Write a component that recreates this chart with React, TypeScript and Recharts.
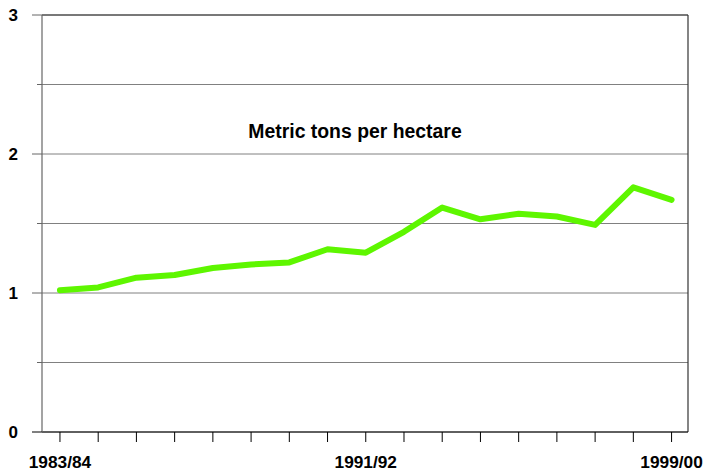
import React from "react";
import {
  LineChart,
  Line,
  XAxis,
  YAxis,
  CartesianGrid,
  ReferenceLine,
} from "recharts";

const years = [
  "1983/84", "1984/85", "1985/86", "1986/87", "1987/88", "1988/89",
  "1989/90", "1990/91", "1991/92", "1992/93", "1993/94", "1994/95",
  "1995/96", "1996/97", "1997/98", "1998/99", "1999/00",
];

const yieldValues = [
  1.02, 1.04, 1.11, 1.13, 1.18, 1.205, 1.22, 1.315, 1.29, 1.44, 1.615,
  1.53, 1.57, 1.55, 1.49, 1.76, 1.67,
];

const labelledYears = ["1983/84", "1991/92", "1999/00"];
const yTicks = [0, 0.5, 1, 1.5, 2, 2.5, 3];

const data = years.map((year, i) => ({ idx: i, year, value: yieldValues[i] }));

const FONT = "Arial, 'Liberation Sans', Helvetica, sans-serif";

const XTick = (props: any) => {
  const { x, y, payload } = props;
  const year = years[payload.value];
  return (
    <g>
      <line x1={x} x2={x} y1={y} y2={y + 10} stroke="#000" strokeWidth={1} />
      {labelledYears.includes(year) && (
        <text
          x={x}
          y={y + 36}
          textAnchor="middle"
          fontFamily={FONT}
          fontWeight="bold"
          fontSize={17.3}
          fill="#000"
        >
          {year}
        </text>
      )}
    </g>
  );
};

const YTick = (props: any) => {
  const { x, y, payload } = props;
  const major = Number.isInteger(payload.value);
  return (
    <g>
      <line
        x1={x - (major ? 10 : 5)}
        x2={x}
        y1={y}
        y2={y}
        stroke={payload.value === 0 ? "#000" : "#666"}
        strokeWidth={1}
      />
      {major && (
        <text
          x={x - 24}
          y={y + 6}
          textAnchor="end"
          fontFamily={FONT}
          fontWeight="bold"
          fontSize={17}
          fill="#000"
        >
          {payload.value}
        </text>
      )}
    </g>
  );
};

const App = () => (
  <div style={{ position: "absolute", left: 0, top: 0, background: "#fff" }}>
    <LineChart
      width={705}
      height={472}
      data={data}
      margin={{ top: 15, right: 17, bottom: 0, left: 0 }}
    >
      <CartesianGrid vertical={false} stroke="#808080" strokeWidth={1} />
      <XAxis
        dataKey="idx"
        type="number"
        domain={[-0.47, 16.43]}
        ticks={years.map((_, i) => i)}
        interval={0}
        height={40}
        tickSize={0}
        tickMargin={0}
        tick={<XTick />}
        axisLine={{ stroke: "#000", strokeWidth: 1.2 }}
        tickLine={false}
      />
      <YAxis
        domain={[0, 3]}
        ticks={yTicks}
        interval={0}
        width={42}
        tickSize={0}
        tickMargin={0}
        tick={<YTick />}
        axisLine={{ stroke: "#666", strokeWidth: 1.2 }}
        tickLine={false}
      />
      <ReferenceLine y={3} stroke="#333" strokeWidth={1.2} />
      <ReferenceLine x={16.43} stroke="#333" strokeWidth={1.2} />
      <text
        x={355}
        y={138}
        textAnchor="middle"
        fontFamily={FONT}
        fontWeight="bold"
        fontSize={19.4}
        fill="#000"
      >
        Metric tons per hectare
      </text>
      <Line
        type="linear"
        dataKey="value"
        stroke="#5ef600"
        strokeWidth={6}
        strokeLinecap="round"
        strokeLinejoin="round"
        dot={false}
        activeDot={false}
        isAnimationActive={false}
      />
    </LineChart>
  </div>
);

export default App;
